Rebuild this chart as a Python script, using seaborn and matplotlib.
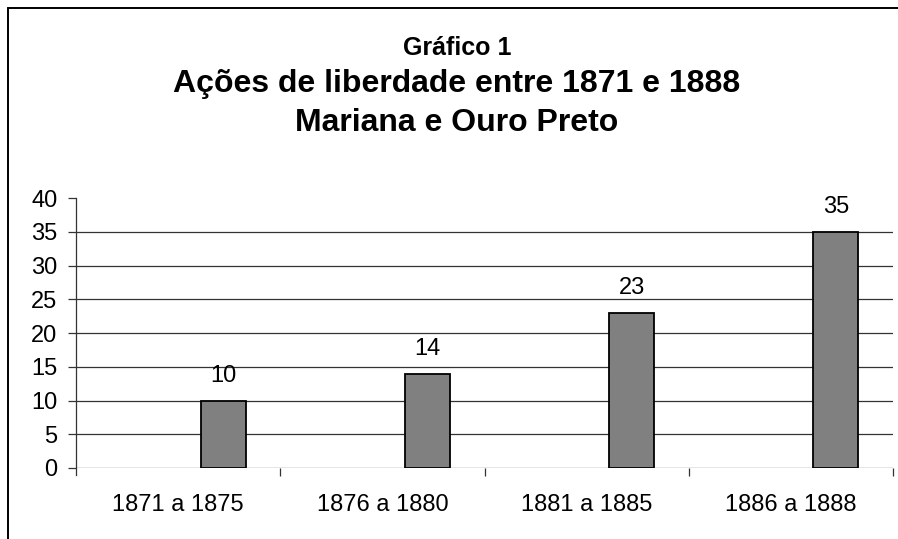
import matplotlib
matplotlib.use("Agg")
import matplotlib.pyplot as plt
import seaborn as sns
import pandas as pd
from matplotlib.patches import Rectangle

# ── Dados ────────────────────────────────────────────────────────────────────
periodos = ["1871 a 1875", "1876 a 1880", "1881 a 1885", "1886 a 1888"]
acoes    = [10, 14, 23, 35]
series   = ["s1", "s2", "Ações"]   # só a terceira série tem valores
y_ticks  = [0, 5, 10, 15, 20, 25, 30, 35, 40]

df = pd.DataFrame({"periodo": periodos, "valor": acoes, "serie": series[-1]})

sns.set_theme(style="white")
plt.rcParams["font.family"] = ["Liberation Sans", "DejaVu Sans"]
plt.rcParams["text.color"] = "black"
plt.rcParams["xtick.color"] = "black"
plt.rcParams["ytick.color"] = "black"

fig = plt.figure(figsize=(8.98, 5.39), dpi=100)
ax = fig.add_axes([76 / 898, 1 - 468 / 539, (893 - 76) / 898, 270 / 539])

sns.barplot(data=df, x="periodo", y="valor", hue="serie", hue_order=series,
            order=periodos, palette={"s1": "#808080", "s2": "#808080", "Ações": "#808080"},
            width=0.66, dodge=True, edgecolor="black", linewidth=1.3,
            legend=False, ax=ax)

for cont in ax.containers:
    if len(cont) and any(p.get_height() > 0 for p in cont):
        ax.bar_label(cont, fmt="%d", padding=10, fontsize=17)

# ── Eixos ────────────────────────────────────────────────────────────────────
ax.set_xlim(-0.5, len(periodos) - 0.5)
ax.set_ylim(0, 40)
ax.set_yticks(y_ticks)
ax.set_xlabel("")
ax.set_ylabel("")
for y in y_ticks[:-1]:
    ax.axhline(y, color="#333333", lw=0.9, zorder=0)

for s in ["top", "right", "bottom"]:
    ax.spines[s].set_visible(False)
ax.spines["left"].set_color("#333333")
ax.spines["left"].set_linewidth(0.9)
ax.spines["left"].set_bounds(-1.05, 40)

ax.tick_params(axis="y", which="major", length=6, width=0.9, color="#333333",
               pad=7.5, labelsize=17, left=True)
ax.set_xticks([i - 0.5 for i in range(1, len(periodos) + 1)], minor=True)
ax.tick_params(axis="x", which="minor", length=6, width=0.9, color="#333333",
               direction="out", bottom=True)
ax.tick_params(axis="x", which="major", length=0, pad=19, labelsize=17)
ax.patch.set_alpha(0)

# ── Títulos ──────────────────────────────────────────────────────────────────
cx = 457 / 898
fig.text(cx, 1 - 48 / 539, "Gráfico 1", ha="center", va="center",
         fontsize=18, fontweight="bold")
fig.text(cx, 1 - 84 / 539, "Ações de liberdade entre 1871 e 1888", ha="center",
         va="center", fontsize=23, fontweight="bold")
fig.text(cx, 1 - 123 / 539, "Mariana e Ouro Preto", ha="center", va="center",
         fontsize=23, fontweight="bold")

# moldura
fig.add_artist(Rectangle((8 / 898, -0.2), 1.2, 1.2 - 8 / 539, transform=fig.transFigure,
                         fill=False, edgecolor="black", lw=1.4))

fig.savefig("out.png", dpi=100)
